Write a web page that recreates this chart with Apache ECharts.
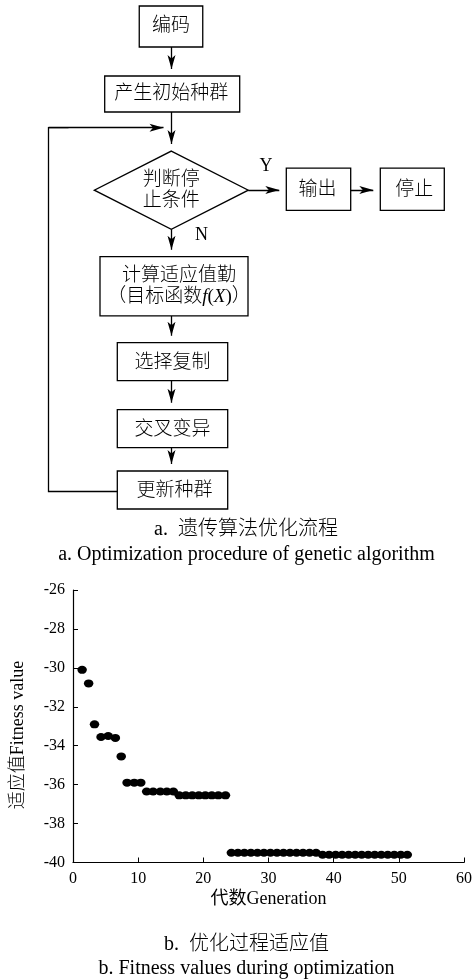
<!DOCTYPE html>
<html><head><meta charset="utf-8">
<script src="https://cdn.jsdelivr.net/npm/echarts@6/dist/echarts.min.js"></script>
<style>html,body{margin:0;padding:0;background:#fff}#c{width:475px;height:979px}</style>
</head><body><div id="c"></div>
<script>
// ---------- data ----------
// (a) flowchart steps
const flowLabels = ['编码', '产生初始种群', '判断停\n止条件', '输出', '停止',
  '计算适应值勤\n（目标函数{i|f}({i|X})）', '选择复制', '交叉变异', '更新种群'];
const flowLinks = [[0, 1], [1, 2], [2, 3], [3, 4], [2, 5], [5, 6], [6, 7], [7, 8]];
const branchLabels = ['Y', 'N'];
// (b) fitness during optimization
const generation = [1.4, 2.4, 3.3, 4.3, 5.4, 6.5, 7.4, 8.3, 9.4, 10.4,
  11.3, 12.3, 13.4, 14.4, 15.4, 16.3, 17.3, 18.3, 19.3, 20.3, 21.3, 22.3, 23.4,
  24.3, 25.3, 26.3, 27.3, 28.3, 29.3, 30.3, 31.3, 32.3, 33.3, 34.3, 35.3, 36.3, 37.3,
  38.3, 39.3, 40.3, 41.3, 42.3, 43.3, 44.3, 45.3, 46.3, 47.3, 48.3, 49.3, 50.3, 51.3];
const fitness = [-30.1, -30.8, -32.9, -33.55, -33.5, -33.6, -34.55, -35.9, -35.9, -35.9,
  -36.35, -36.35, -36.35, -36.35, -36.35,
  -36.55, -36.55, -36.55, -36.55, -36.55, -36.55, -36.55, -36.55,
  -39.5, -39.5, -39.5, -39.5, -39.5, -39.5, -39.5, -39.5, -39.5, -39.5, -39.5, -39.5, -39.5, -39.5,
  -39.6, -39.6, -39.6, -39.6, -39.6, -39.6, -39.6, -39.6, -39.6, -39.6, -39.6, -39.6, -39.6, -39.6];
const xTicks = {min: 0, max: 60, step: 10};
const yTicks = {min: -40, max: -26, step: 2};
const xName = '代数Generation';
const yName = '适应值Fitness value';
const captionA = ['a.  遗传算法优化流程', 'a. Optimization procedure of genetic algorithm'];
const captionB = ['b.  优化过程适应值', 'b. Fitness values during optimization'];

// ---------- layout (flow panel uses pixel units) ----------
const flowBoxes = [ // cx, cy, w, h
  [171, 26.5, 63.5, 41],
  [172.2, 94, 135, 36],
  [171.3, 190.2, 154, 78.3],
  [318.5, 189.2, 64.4, 42.3],
  [412.3, 189.2, 64, 42.3],
  [174, 286.3, 148, 59.3],
  [172.5, 361.7, 110.4, 38],
  [172.5, 428.7, 110.4, 38],
  [172.5, 490, 110.4, 38]
];
const flowShapes = ['rect', 'rect', 'diamond', 'rect', 'rect', 'rect', 'rect', 'rect', 'rect'];
const labelShift = [[0, 0], [-1, 0], [0, 0], [-1, 1], [2, 1], [5, 0], [0, 1], [0, 1], [2, 1]];
const colX = 171.5, arrowLen = 14, loopX = 48.5, loopTopY = 127.7, loopBotY = 491.5, midY = 190;

const FONT = "'Liberation Serif', 'Noto Sans CJK SC', serif";

const arrowData = flowLinks.map(([a, b]) => {
  const A = flowBoxes[a], B = flowBoxes[b];
  if (Math.abs(A[1] - B[1]) < 5) {
    return {coords: [[A[0] + A[2] / 2, midY], [B[0] - B[2] / 2 - arrowLen / 2, midY]]};
  }
  return {coords: [[colX, A[1] + A[3] / 2], [colX, B[1] - B[3] / 2 - arrowLen / 2]]};
});
arrowData.push({coords: [[loopX, loopTopY], [colX - arrowLen / 2 - 1, loopTopY]]});
const last = flowBoxes[8];
const loopData = [{coords: [[last[0] - last[2] / 2, loopBotY], [loopX, loopBotY], [loopX, loopTopY], [loopX + 20, loopTopY]]}];

function renderBox(params, api) {
  const i = params.dataIndex;
  const c = api.coord([api.value(0), api.value(1)]);
  const s = api.size([api.value(2), api.value(3)]);
  const w = s[0], h = s[1];
  const shapeStyle = {fill: '#fff', stroke: '#000', lineWidth: 1.3};
  const shape = flowShapes[i] === 'diamond'
    ? {type: 'polygon', shape: {points: [[c[0], c[1] - h / 2], [c[0] + w / 2, c[1]], [c[0], c[1] + h / 2], [c[0] - w / 2, c[1]]]}, style: shapeStyle}
    : {type: 'rect', shape: {x: c[0] - w / 2, y: c[1] - h / 2, width: w, height: h}, style: shapeStyle};
  return {
    type: 'group',
    children: [shape, {
      type: 'text', x: c[0] + labelShift[i][0], y: c[1] + labelShift[i][1],
      style: {text: flowLabels[i], fill: '#000', fontFamily: FONT, fontSize: 19, fontWeight: 300,
        lineHeight: 21, align: 'center', verticalAlign: 'middle',
        rich: {i: {fontStyle: 'italic', fontFamily: FONT, fontSize: 19, fill: '#000', lineHeight: 21}}}
    }]
  };
}

const chart = echarts.init(document.getElementById('c'), null, {renderer: 'canvas'});
const blackLine = {color: '#000', width: 1.3, opacity: 1};

chart.setOption({
  backgroundColor: '#fff',
  animation: false,
  grid: [
    {left: 0, top: 0, width: 475, height: 520, show: false},
    {left: 73, top: 590, right: 6.5, bottom: 116.5, show: false}
  ],
  xAxis: [
    {gridIndex: 0, type: 'value', min: 0, max: 475, show: false},
    {gridIndex: 1, type: 'value', min: xTicks.min, max: xTicks.max, interval: xTicks.step,
      name: xName, nameLocation: 'middle', nameGap: 28,
      nameTextStyle: {fontFamily: FONT, fontSize: 18, color: '#000'},
      axisLine: {show: true, onZero: false, lineStyle: {color: '#000', width: 1.2}},
      axisTick: {show: true, inside: true, length: 5, lineStyle: {color: '#000', width: 1}},
      axisLabel: {fontFamily: FONT, fontSize: 16, color: '#000', margin: 8},
      splitLine: {show: false}}
  ],
  yAxis: [
    {gridIndex: 0, type: 'value', min: 0, max: 520, inverse: true, show: false},
    {gridIndex: 1, type: 'value', min: yTicks.min, max: yTicks.max, interval: yTicks.step,
      axisLine: {show: true, onZero: false, lineStyle: {color: '#000', width: 1.2}},
      axisTick: {show: true, inside: true, length: 5, lineStyle: {color: '#000', width: 1}},
      axisLabel: {fontFamily: FONT, fontSize: 16, color: '#000', margin: 8},
      splitLine: {show: false}}
  ],
  series: [
    {
      type: 'custom', xAxisIndex: 0, yAxisIndex: 0, silent: true, clip: false,
      renderItem: renderBox,
      data: flowBoxes.map(b => b.slice())
    },
    {
      type: 'lines', coordinateSystem: 'cartesian2d', xAxisIndex: 0, yAxisIndex: 0,
      polyline: true, silent: true, symbol: ['none', 'none'],
      lineStyle: blackLine, data: loopData, z: 3
    },
    {
      type: 'lines', coordinateSystem: 'cartesian2d', xAxisIndex: 0, yAxisIndex: 0,
      silent: true, symbol: ['none', 'arrow'], symbolSize: [[6, arrowLen], [6, arrowLen]],
      lineStyle: blackLine, itemStyle: {color: '#000'}, data: arrowData, z: 3
    },
    {
      type: 'scatter', xAxisIndex: 1, yAxisIndex: 1, silent: true,
      symbol: 'circle', symbolSize: [9.5, 8],
      itemStyle: {color: '#000', opacity: 1},
      data: generation.map((g, i) => [g, fitness[i]]),
      emphasis: {disabled: true}
    }
  ],
  graphic: [
    {type: 'text', x: 266, y: 166.5, silent: true,
      style: {text: branchLabels[0], font: '18px ' + FONT, fill: '#000', align: 'center', verticalAlign: 'middle'}},
    {type: 'text', x: 201.5, y: 235, silent: true,
      style: {text: branchLabels[1], font: '18px ' + FONT, fill: '#000', align: 'center', verticalAlign: 'middle'}},
    {type: 'text', x: 246, y: 530, silent: true,
      style: {text: captionA[0], font: '300 20px ' + FONT, fill: '#000', align: 'center', verticalAlign: 'middle'}},
    {type: 'text', x: 246.5, y: 555, silent: true,
      style: {text: captionA[1], font: '20px ' + FONT, fill: '#000', align: 'center', verticalAlign: 'middle'}},
    {type: 'text', x: 18.5, y: 735, rotation: Math.PI / 2, silent: true,
      style: {text: yName, font: '300 18px ' + FONT, fill: '#000', align: 'center', verticalAlign: 'middle'}},
    {type: 'text', x: 246.5, y: 945, silent: true,
      style: {text: captionB[0], font: '300 20px ' + FONT, fill: '#000', align: 'center', verticalAlign: 'middle'}},
    {type: 'text', x: 246.5, y: 968.5, silent: true,
      style: {text: captionB[1], font: '20px ' + FONT, fill: '#000', align: 'center', verticalAlign: 'middle'}}
  ]
});
</script>
</body></html>
